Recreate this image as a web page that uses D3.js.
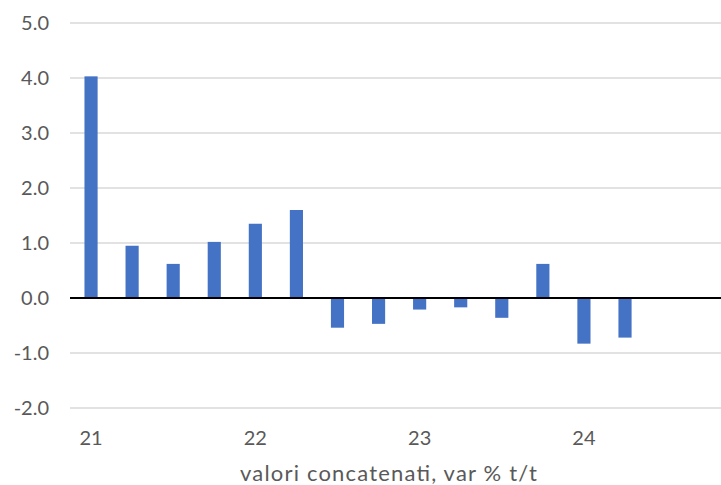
<!DOCTYPE html>
<html>
<head>
<meta charset="utf-8">
<script src="https://cdn.jsdelivr.net/npm/d3@7"></script>
<style>
  html, body { margin: 0; padding: 0; background: #fff; }
  svg { display: block; }
  text { font-family: Lato, "Open Sans", sans-serif; fill: #595959; }
</style>
</head>
<body>
<svg id="chart" width="721" height="485"></svg>
<script>
// Quarterly change, chained values (% q/q)
const quarters = [
  "21T1", "21T2", "21T3", "21T4",
  "22T1", "22T2", "22T3", "22T4",
  "23T1", "23T2", "23T3", "23T4",
  "24T1", "24T2", "24T3", "24T4"
];
const values = [
  4.03, 0.95, 0.62, 1.02,
  1.35, 1.60, -0.54, -0.47,
  -0.21, -0.17, -0.36, 0.62,
  -0.83, -0.72, null, null
];
const yTicks = [-2, -1, 0, 1, 2, 3, 4, 5];
const yearLabels = { "21T1": "21", "22T1": "22", "23T1": "23", "24T1": "24" };
const axisTitle = "valori concatenati, var % t/t";

const svg = d3.select("#chart");
const W = 721;
const plotLeft = 70;

const x = d3.scaleBand()
  .domain(quarters)
  .range([70.5, 727.7])
  .paddingInner(0.68)
  .paddingOuter(0.34);

const y = d3.scaleLinear()
  .domain([-2, 5])
  .range([408, 23]);

// one decimal, plain hyphen for negatives
const fmt = d => d.toFixed(1);

// horizontal gridlines
svg.append("g")
  .selectAll("line")
  .data(yTicks.filter(d => d !== 0))
  .join("line")
  .attr("x1", plotLeft)
  .attr("x2", W)
  .attr("y1", d => y(d))
  .attr("y2", d => y(d))
  .attr("stroke", "#d9d9d9")
  .attr("stroke-width", 1.5);

// y axis labels
const yAxis = d3.axisLeft(y)
  .tickValues(yTicks)
  .tickFormat(fmt)
  .tickSize(0)
  .tickPadding(0);

svg.append("g")
  .attr("transform", "translate(49,0)")
  .call(yAxis)
  .call(g => g.select(".domain").remove())
  .call(g => g.selectAll("text")
    .attr("font-size", 20)
    .attr("font-family", "Lato, 'Open Sans', sans-serif")
    .attr("fill", "#595959"));

// bars
svg.append("g")
  .selectAll("rect")
  .data(quarters.map((q, i) => ({ q, v: values[i] })).filter(d => d.v !== null))
  .join("rect")
  .attr("x", d => x(d.q))
  .attr("width", x.bandwidth())
  .attr("y", d => y(Math.max(0, d.v)))
  .attr("height", d => Math.abs(y(d.v) - y(0)))
  .attr("fill", "#4472c4");

// zero line
svg.append("line")
  .attr("x1", plotLeft)
  .attr("x2", W)
  .attr("y1", y(0))
  .attr("y2", y(0))
  .attr("stroke", "#000")
  .attr("stroke-width", 2);

// category axis: year label on first quarter
const xAxis = d3.axisBottom(x)
  .tickValues(quarters.filter(q => yearLabels[q]))
  .tickFormat(q => yearLabels[q])
  .tickSize(0)
  .tickPadding(0);

svg.append("g")
  .attr("transform", "translate(0,431)")
  .call(xAxis)
  .call(g => g.select(".domain").remove())
  .call(g => g.selectAll("text")
    .attr("font-size", 20)
    .attr("font-family", "Lato, 'Open Sans', sans-serif")
    .attr("fill", "#595959"));

// axis title
svg.append("text")
  .attr("x", 388.5)
  .attr("y", 481)
  .attr("text-anchor", "middle")
  .attr("font-size", 22)
  .attr("textLength", 297)
  .attr("lengthAdjust", "spacing")
  .text(axisTitle);
</script>
</body>
</html>
